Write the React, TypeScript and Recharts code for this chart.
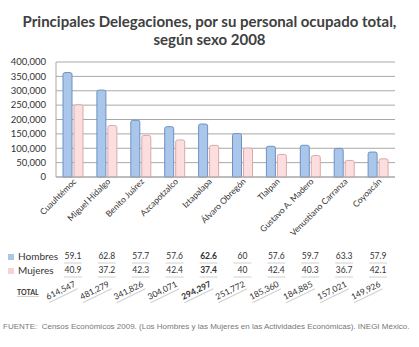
import { BarChart, Bar, XAxis, YAxis, CartesianGrid } from 'recharts';

const delegaciones = [
  'Cuauhtémoc',
  'Miguel Hidalgo',
  'Benito Juárez',
  'Azcapotzalco',
  'Iztapalapa',
  'Álvaro Obregón',
  'Tlalpan',
  'Gustavo A. Madero',
  'Venustiano Carranza',
  'Coyoacán',
];
const hombres = [363200, 302200, 197200, 175100, 184200, 151100, 106800, 110400, 99400, 86800];
const mujeres = [251300, 179000, 144600, 128900, 110100, 100700, 78600, 74500, 57600, 63100];
const pctHombres = ['59.1', '62.8', '57.7', '57.6', '62.6', '60', '57.6', '59.7', '63.3', '57.9'];
const pctMujeres = ['40.9', '37.2', '42.3', '42.4', '37.4', '40', '42.4', '40.3', '36.7', '42.1'];
const totales = ['614,547', '481,279', '341,826', '304,071', '294,297', '251,772', '185,360', '184,885', '157,021', '149,926'];
const yTicks = [0, 50000, 100000, 150000, 200000, 250000, 300000, 350000, 400000];
const destacada = 4;

const data = delegaciones.map((name, i) => ({ name, hombres: hombres[i], mujeres: mujeres[i] }));

const font = 'Lato, "Open Sans", sans-serif';

const CategoryTick = ({ x, y, payload }: any) => {
  const i = payload.index;
  const weight = i === destacada ? 'bold' : 'normal';
  return (
    <g fontFamily={font} fill="#333">
      <text
        x={x + 4}
        y={y + 5}
        transform={`rotate(-45, ${x + 4}, ${y + 5})`}
        textAnchor="end"
        fontSize={8.5}
      >
        {payload.value}
      </text>
      <text x={x} y={y + 82} textAnchor="middle" fontSize={8.5} fontWeight={weight}>
        {pctHombres[i]}
      </text>
      <line x1={x - 9} y1={y + 86} x2={x + 9} y2={y + 86} stroke="#d0d0d0" />
      <text x={x} y={y + 96} textAnchor="middle" fontSize={8.5} fontWeight={weight}>
        {pctMujeres[i]}
      </text>
      <line x1={x - 9} y1={y + 100} x2={x + 9} y2={y + 100} stroke="#d0d0d0" />
      <g transform={`translate(${x - 11}, ${y + 116}) rotate(-26)`}>
        <text x={0} y={0} textAnchor="middle" fontSize={8.5} fontWeight={weight}>
          {totales[i]}
        </text>
        <line x1={-16} y1={3} x2={16} y2={3} stroke="#d0d0d0" />
      </g>
    </g>
  );
};

export default function App() {
  return (
    <div style={{ position: 'absolute', left: 0, top: 0, width: 419, height: 347, background: '#fff', fontFamily: font }}>
      <div
        style={{
          position: 'absolute',
          top: 12,
          left: 0,
          width: 419,
          textAlign: 'center',
          fontSize: 15,
          fontWeight: 'bold',
          lineHeight: '18px',
          color: '#404040',
        }}
      >
        Principales Delegaciones, por su personal ocupado total,
        <br />
        según sexo 2008
      </div>
      <BarChart
        width={419}
        height={347}
        data={data}
        margin={{ top: 62, right: 24, bottom: 20, left: 0 }}
        barGap={2}
        barCategoryGap={7}
      >
        <CartesianGrid vertical={false} stroke="#a8a8a8" />
        <YAxis
          width={56}
          domain={[0, 400000]}
          ticks={yTicks}
          interval={0}
          tickFormatter={(v: number) => v.toLocaleString('en-US')}
          tick={{ fontSize: 9.5, fill: '#333', fontFamily: font }}
          tickLine={false}
          tickSize={0}
          tickMargin={10}
          axisLine={{ stroke: '#a8a8a8' }}
        />
        <XAxis
          dataKey="name"
          height={150}
          interval={0}
          tick={<CategoryTick />}
          tickLine={false}
          tickSize={0}
          tickMargin={0}
          axisLine={{ stroke: '#a8a8a8' }}
        />
        <Bar dataKey="hombres" fill="#aac6ea" stroke="#6d92c2" barSize={9} radius={[2, 2, 0, 0]} isAnimationActive={false} />
        <Bar dataKey="mujeres" fill="#fddede" stroke="#dba9a9" barSize={9} radius={[2, 2, 0, 0]} isAnimationActive={false} />
      </BarChart>
      <div style={{ position: 'absolute', left: 8, top: 249, fontSize: 10, color: '#333', lineHeight: '14px' }}>
        <div>
          <span style={{ display: 'inline-block', width: 6, height: 6, background: '#aac6ea', marginRight: 4 }} />
          Hombres
        </div>
        <div>
          <span style={{ display: 'inline-block', width: 6, height: 6, background: '#f6d2d2', marginRight: 4 }} />
          Mujeres
        </div>
      </div>
      <div
        style={{
          position: 'absolute',
          left: 17,
          top: 288,
          fontSize: 7,
          fontWeight: 'bold',
          color: '#333',
          borderBottom: '1px solid #d0d0d0',
        }}
      >
        TOTAL
      </div>
      <div
        style={{
          position: 'absolute',
          left: 3,
          top: 322,
          fontSize: 8,
          color: '#777',
          fontFamily: '"Liberation Sans", Arial, sans-serif',
          whiteSpace: 'nowrap',
        }}
      >
        FUENTE:&nbsp; Censos Económicos 2009. (Los Hombres y las Mujeres en las Actividades Económicas). INEGI México.
      </div>
    </div>
  );
}
